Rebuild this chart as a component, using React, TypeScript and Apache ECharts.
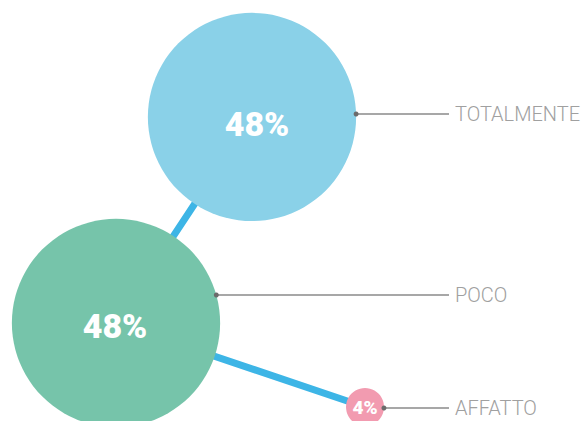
import React, { useEffect, useRef } from "react";
import * as echarts from "echarts";

const categories = ["TOTALMENTE", "POCO", "AFFATTO"];
const percentages = [48, 48, 4];
const xPos = [252, 116, 365];
const yPos = [304, 98, 14];
const labelY = [307, 126, 13];
const bubbleColors = ["#8ad1e8", "#76c4aa", "#f29bb0"];

const sizeOf = (v: number) => 22.5 + v * 3.87;
const labelOffsets = [[5, 7], [-1, 3], [0, 0]];

export default function App() {
  const ref = useRef<HTMLDivElement>(null);
  useEffect(() => {
    document.body.style.margin = "0";
    const chart = echarts.init(ref.current!, null, { renderer: "svg" });
    const points = categories.map((c, i) => ({
      name: c,
      value: [xPos[i], yPos[i], percentages[i]],
      itemStyle: { color: bubbleColors[i], opacity: 1 },
      label: { fontSize: percentages[i] < 10 ? 19 : 34, offset: labelOffsets[i] },
    }));
    chart.setOption({
      animation: false,
      grid: { left: 0, right: 0, top: 0, bottom: 0 },
      xAxis: { type: "value", min: 0, max: 584, show: false },
      yAxis: { type: "value", min: 0, max: 421, show: false },
      series: [
        {
          type: "line",
          data: categories.map((c, i) => [xPos[i], yPos[i]]),
          symbol: "none",
          lineStyle: { color: "#3db5e6", width: 7 },
          z: 1,
        },
        {
          type: "scatter",
          data: points,
          symbolSize: (val: number[]) => sizeOf(val[2]),
          z: 2,
          itemStyle: { opacity: 1 },
          emphasis: { disabled: true },
          label: {
            show: true,
            position: "inside",
            formatter: (p: any) => p.value[2] + "%",
            color: "#ffffff",
            fontFamily: "Roboto, sans-serif",
            fontWeight: 900,
          },
        },
        {
          type: "custom",
          z: 3,
          data: categories.map((c, i) => [xPos[i], yPos[i], labelY[i], percentages[i]]),
          renderItem: (params: any, api: any) => {
            const c = api.coord([api.value(0), api.value(1)]);
            const ly = api.coord([api.value(0), api.value(2)])[1];
            const r = sizeOf(api.value(3)) / 2;
            const dy = ly - c[1];
            const dx = Math.sqrt(Math.max(r * r - dy * dy, 0));
            const sx = c[0] + dx;
            return {
              type: "group",
              children: [
                {
                  type: "line",
                  shape: { x1: sx, y1: ly, x2: 449, y2: ly },
                  style: { stroke: "#8a8a8a", lineWidth: 1.3 },
                },
                {
                  type: "circle",
                  shape: { cx: sx, cy: ly, r: 2.5 },
                  style: { fill: "#6b6b6b" },
                },
                {
                  type: "text",
                  x: 455,
                  y: ly,
                  style: {
                    text: categories[params.dataIndex],
                    fill: "#a0a0a0",
                    fontSize: 20,
                    fontWeight: 300,
                    fontFamily: "Roboto, sans-serif",
                    verticalAlign: "middle",
                    align: "left",
                  },
                },
              ],
            };
          },
        },
      ],
    });
    return () => chart.dispose();
  }, []);
  return <div ref={ref} style={{ width: 584, height: 421 }} />;
}
